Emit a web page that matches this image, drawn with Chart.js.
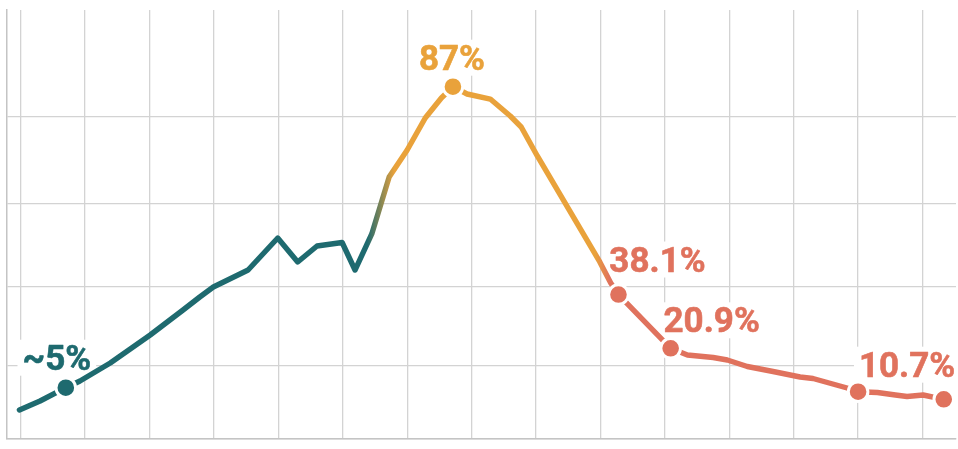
<!DOCTYPE html>
<html>
<head>
<meta charset="utf-8">
<script src="https://cdn.jsdelivr.net/npm/chart.js@4/dist/chart.umd.min.js"></script>
<style>
  html, body { margin: 0; padding: 0; background: #ffffff; }
  #wrap { width: 958px; height: 449px; }
</style>
</head>
<body>
<div id="wrap"><canvas id="c" width="958" height="449"></canvas></div>
<script>
// ---- data (x in grid-column units, y in percent of plot height) ----
const xValues = [-0.02, 0.30, 0.70, 0.92, 1.39, 2.01, 2.52, 2.78, 2.99, 3.53,
                 3.99, 4.30, 4.60, 4.99, 5.19, 5.45, 5.72, 6.00, 6.28, 6.53,
                 6.71, 6.93, 7.29, 7.60, 7.77, 8.02, 8.99, 9.16, 9.28, 10.09,
                 10.35, 10.75, 10.97, 11.28, 11.68, 12.10, 12.30, 12.83, 13.00, 13.30,
                 13.58, 13.76, 14.01, 14.33];
const yValues = [6.76, 8.86, 11.96, 13.52, 17.72, 24.24, 30.07, 33.10, 35.43, 39.39,
                 46.85, 41.26, 44.99, 45.80, 39.39, 47.79, 61.07, 67.37, 74.83, 79.49,
                 82.12, 80.42, 79.25, 75.29, 72.73, 65.97, 41.26, 36.36, 33.68, 21.14,
                 19.58, 19.00, 18.41, 16.90, 15.73, 14.45, 14.10, 11.89, 11.03, 10.84,
                 10.26, 9.91, 10.26, 9.25];
const markerIndex = [2, 20, 28, 29, 38, 43];
const markerText  = ['~5%', '87%', '38.1%', '20.9%', '10.7%', ''];
const xGridTicks = [0,1,2,3,4,5,6,7,8,9,10,11,12,13,14];
const yGridTicks = [0, 17.0, 35.4, 54.8, 75.1];

// ---- styles ----
const TEAL = '#1E6A6F', ORANGE = '#E9A23B', SALMON = '#E0725D';
// label placement relative to marker (pixels), one per markerIndex
const labelOffsets = [
  {dx: -9, dy: -18}, {dx: -1, dy: -17}, {dx: 39, dy: -23},
  {dx: 41, dy: -16}, {dx: 49, dy: -15}, null
];
// colour transitions (in x units)
const colourStops = {tealEnd: 5.38, orangeStart: 5.80, orangeEnd: 8.92, salmonStart: 9.14};

function colourAt(x) {
  if (x < colourStops.orangeStart) return TEAL;
  if (x < colourStops.salmonStart - 0.05) return ORANGE;
  return SALMON;
}

const points = xValues.map((x, i) => ({x, y: yValues[i]}));
const radii = points.map((p, i) => markerIndex.includes(i) ? 9.8 : 0);
const pColours = points.map(p => colourAt(p.x));

const FONT = 'bold 35px Roboto';
const labelPlugin = {
  id: 'labelPlugin',
  beforeDatasetsDraw(chart) {
    const ctx = chart.ctx;
    const meta = chart.getDatasetMeta(0);
    ctx.save();
    ctx.font = FONT;
    markerIndex.forEach((idx, k) => {
      const t = markerText[k]; const off = labelOffsets[k];
      if (!t || !off) return;
      const el = meta.data[idx];
      const w = ctx.measureText(t).width;
      const cx = el.x + off.dx, by = el.y + off.dy;
      ctx.fillStyle = '#ffffff';
      ctx.fillRect(cx - w / 2 - 5, by - 30, w + 10, 36);
    });
    ctx.restore();
  },
  afterDatasetsDraw(chart) {
    const ctx = chart.ctx;
    const meta = chart.getDatasetMeta(0);
    ctx.save();
    ctx.font = FONT;
    ctx.textAlign = 'center';
    ctx.textBaseline = 'alphabetic';
    markerIndex.forEach((idx, k) => {
      const t = markerText[k]; const off = labelOffsets[k];
      if (!t || !off) return;
      const el = meta.data[idx];
      const x = el.x + off.dx, y = el.y + off.dy;
      ctx.fillStyle = pColours[idx];
      ctx.strokeStyle = pColours[idx];
      ctx.lineWidth = 0.6;
      ctx.lineJoin = 'round';
      ctx.fillText(t, x, y);
      ctx.strokeText(t, x, y);
    });
    ctx.restore();
  }
};

function lineGradient(context) {
  const chart = context.chart;
  const area = chart.chartArea;
  if (!area) return TEAL;
  const xs = chart.scales.x;
  const g = chart.ctx.createLinearGradient(area.left, 0, area.right, 0);
  const f = v => Math.min(1, Math.max(0, (xs.getPixelForValue(v) - area.left) / (area.right - area.left)));
  g.addColorStop(0, TEAL);
  g.addColorStop(f(colourStops.tealEnd), TEAL);
  g.addColorStop(f(colourStops.orangeStart), ORANGE);
  g.addColorStop(f(colourStops.orangeEnd), ORANGE);
  g.addColorStop(f(colourStops.salmonStart), SALMON);
  g.addColorStop(1, SALMON);
  return g;
}

const GRID = '#d3d3d3';
new Chart(document.getElementById('c'), {
  type: 'line',
  data: {
    datasets: [{
      data: points,
      borderColor: lineGradient,
      borderWidth: 5.4,
      tension: 0,
      borderCapStyle: 'round',
      borderJoinStyle: 'round',
      pointRadius: radii,
      pointHoverRadius: radii,
      pointBackgroundColor: pColours,
      pointBorderColor: '#ffffff',
      pointBorderWidth: 3,
      clip: false
    }]
  },
  options: {
    responsive: false,
    devicePixelRatio: 1,
    animation: false,
    events: [],
    layout: { autoPadding: false, padding: { left: 7, right: 2, top: 10, bottom: 10 } },
    plugins: { legend: { display: false }, tooltip: { enabled: false } },
    scales: {
      x: {
        type: 'linear', min: -0.213, max: 14.52,
        afterBuildTicks: s => { s.ticks = xGridTicks.map(v => ({value: v})); },
        ticks: { display: false },
        grid: { color: GRID, lineWidth: 1.3, drawTicks: false },
        border: { display: true, color: '#c4c4c4', width: 1.5 }
      },
      y: {
        type: 'linear', min: 0, max: 100,
        afterBuildTicks: s => { s.ticks = yGridTicks.map(v => ({value: v})); },
        ticks: { display: false },
        grid: { color: GRID, lineWidth: 1.3, drawTicks: false },
        border: { display: true, color: '#c4c4c4', width: 1.5 }
      }
    }
  },
  plugins: [labelPlugin]
});
</script>
</body>
</html>
